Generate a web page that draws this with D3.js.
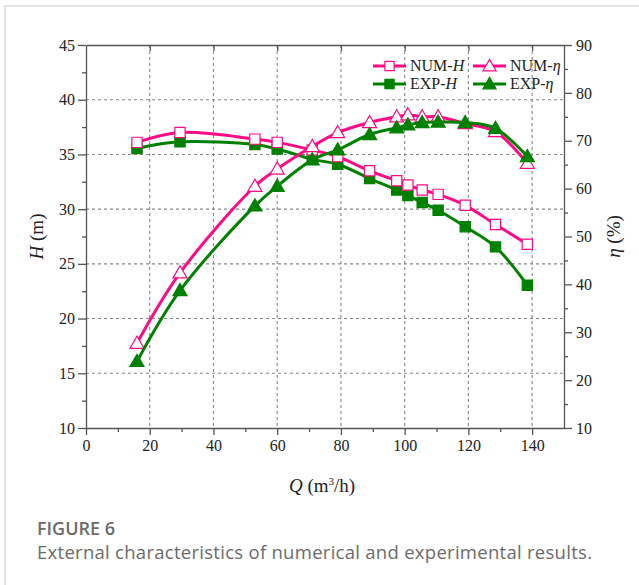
<!DOCTYPE html>
<html>
<head>
<meta charset="utf-8">
<script src="https://cdn.jsdelivr.net/npm/d3@7"></script>
<style>
  body { margin: 0; background: #fff; }
  svg { display: block; }
</style>
</head>
<body>
<svg id="chart" width="639" height="585"></svg>
<script>
// flow rate (m3/h) for every measuring point
const flow = [16, 29.5, 53, 60, 71, 79, 89, 97.5, 101, 105.5, 110.5, 119, 128.5, 138.5];
// head (m)
const headNum = [36.1, 37.0, 36.4, 36.1, 35.4, 34.8, 33.5, 32.6, 32.2, 31.75, 31.35, 30.35, 28.6, 26.8];
const headExp = [35.55, 36.15, 35.9, 35.5, 34.55, 34.1, 32.8, 31.75, 31.25, 30.6, 29.9, 28.4, 26.55, 23.05];
// efficiency (%)
const etaNum = [27.7, 42.4, 60.5, 64.1, 68.8, 71.7, 73.8, 75.0, 75.4, 75.0, 75.0, 73.6, 71.9, 65.3];
const etaExp = [23.9, 38.7, 56.4, 60.5, 66.0, 68.1, 71.3, 72.7, 73.3, 73.8, 73.9, 73.8, 72.6, 66.7];

const xTicks = [0, 20, 40, 60, 80, 100, 120, 140];
const hTicks = [10, 15, 20, 25, 30, 35, 40, 45];
const etaTicks = [10, 20, 30, 40, 50, 60, 70, 80, 90];

const pink = "#ff0a84";
const green = "#008000";
const serif = "'Liberation Serif', 'Times New Roman', serif";

const svg = d3.select("#chart");

// card frame
svg.append("rect")
    .attr("x", 5).attr("y", 6)
    .attr("width", 800).attr("height", 800)
    .attr("fill", "none")
    .attr("stroke", "#e2e2e2")
    .attr("stroke-width", 2);

const pLeft = 86, pRight = 564, pTop = 45, pBottom = 428;

const x = d3.scaleLinear().domain([0, 150]).range([pLeft, pRight]);
const yH = d3.scaleLinear().domain([10, 45]).range([pBottom, pTop]);
const yE = d3.scaleLinear().domain([10, 90]).range([pBottom, pTop]);

// grid
const grid = svg.append("g").attr("stroke", "#888").attr("stroke-dasharray", "3,3").attr("stroke-width", 1.1);
grid.selectAll("line.gx")
    .data(xTicks.filter(d => d > 0))
    .enter().append("line")
    .attr("x1", d => x(d)).attr("x2", d => x(d))
    .attr("y1", pTop).attr("y2", pBottom);
grid.selectAll("line.gy")
    .data(hTicks.filter(d => d > 10 && d < 45))
    .enter().append("line")
    .attr("x1", pLeft).attr("x2", pRight)
    .attr("y1", d => yH(d)).attr("y2", d => yH(d));

function styleAxis(g) {
    g.selectAll("path, line").attr("stroke", "#555").attr("stroke-width", 1.3);
    g.selectAll("text").attr("font-family", serif).attr("font-size", 16).attr("fill", "#222");
}

// minor ticks first, then majors with labels
svg.append("g").attr("transform", `translate(0,${pBottom})`)
    .call(d3.axisBottom(x).tickValues(d3.range(10, 150, 20)).tickSize(4).tickFormat(""))
    .call(styleAxis).select(".domain").remove();
svg.append("g").attr("transform", `translate(0,${pBottom})`)
    .call(d3.axisBottom(x).tickValues(xTicks).tickSize(7).tickSizeOuter(0).tickPadding(5))
    .call(styleAxis);

svg.append("g").attr("transform", `translate(0,${pTop})`)
    .call(d3.axisBottom(x).tickValues(xTicks.filter(d => d > 0)).tickSize(6).tickSizeOuter(0).tickFormat(""))
    .call(styleAxis);

svg.append("g").attr("transform", `translate(${pLeft},0)`)
    .call(d3.axisLeft(yH).tickValues(d3.range(12.5, 45, 5)).tickSize(4).tickFormat(""))
    .call(styleAxis).select(".domain").remove();
svg.append("g").attr("transform", `translate(${pLeft},0)`)
    .call(d3.axisLeft(yH).tickValues(hTicks).tickSize(8).tickSizeOuter(0).tickPadding(3))
    .call(styleAxis);

svg.append("g").attr("transform", `translate(${pRight},0)`)
    .call(d3.axisRight(yE).tickValues(d3.range(15, 90, 10)).tickSize(4).tickFormat(""))
    .call(styleAxis).select(".domain").remove();
svg.append("g").attr("transform", `translate(${pRight},0)`)
    .call(d3.axisRight(yE).tickValues(etaTicks).tickSize(8).tickSizeOuter(0).tickPadding(4))
    .call(styleAxis);

// series
const series = [
    { vals: headExp, y: yH, color: green, shape: d3.symbolSquare, filled: true },
    { vals: headNum, y: yH, color: pink, shape: d3.symbolSquare, filled: false },
    { vals: etaNum, y: yE, color: pink, shape: d3.symbolTriangle, filled: false },
    { vals: etaExp, y: yE, color: green, shape: d3.symbolTriangle, filled: true }
];

series.forEach(s => {
    const pts = flow.map((q, i) => [q, s.vals[i]]);
    const line = d3.line()
        .x(d => x(d[0]))
        .y(d => s.y(d[1]))
        .curve(d3.curveCatmullRom.alpha(0.5));
    svg.append("path")
        .datum(pts)
        .attr("d", line)
        .attr("fill", "none")
        .attr("stroke", s.color)
        .attr("stroke-width", 3);
    const sz = s.shape === d3.symbolSquare ? 105 : 85;
    svg.selectAll(null)
        .data(pts)
        .enter().append("path")
        .attr("d", d3.symbol().type(s.shape).size(sz))
        .attr("transform", d => `translate(${x(d[0])},${s.y(d[1]) + (s.shape === d3.symbolTriangle ? 1 : 0)})`)
        .attr("fill", s.filled ? s.color : "#fff")
        .attr("stroke", s.color)
        .attr("stroke-width", 1.2);
});

// legend
const legend = [
    { label: "NUM-", it: "H", color: pink, shape: d3.symbolSquare, filled: false, lx: 373, ly: 66 },
    { label: "NUM-", it: "η", color: pink, shape: d3.symbolTriangle, filled: false, lx: 473, ly: 66 },
    { label: "EXP-", it: "H", color: green, shape: d3.symbolSquare, filled: true, lx: 373, ly: 84 },
    { label: "EXP-", it: "η", color: green, shape: d3.symbolTriangle, filled: true, lx: 473, ly: 84 }
];
legend.forEach(l => {
    const g = svg.append("g").attr("transform", `translate(${l.lx},${l.ly})`);
    g.append("line").attr("x1", 0).attr("x2", 33).attr("y1", 0).attr("y2", 0)
        .attr("stroke", l.color).attr("stroke-width", 3);
    g.append("path")
        .attr("d", d3.symbol().type(l.shape).size(l.shape === d3.symbolSquare ? 85 : 75))
        .attr("transform", `translate(16.5,${l.shape === d3.symbolTriangle ? 1 : 0})`)
        .attr("fill", l.filled ? l.color : "#fff")
        .attr("stroke", l.color).attr("stroke-width", 1.2);
    const t = g.append("text").attr("x", 37).attr("y", 5)
        .attr("font-family", serif).attr("font-size", 16).attr("fill", "#222");
    t.append("tspan").text(l.label);
    t.append("tspan").attr("font-style", "italic").text(l.it);
});

// axis titles
const xt = svg.append("text").attr("x", 322).attr("y", 492).attr("text-anchor", "middle")
    .attr("font-family", serif).attr("font-size", 19).attr("fill", "#222");
xt.append("tspan").attr("font-style", "italic").text("Q");
xt.append("tspan").text(" (m");
xt.append("tspan").attr("font-size", 11).attr("dy", -7).text("3");
xt.append("tspan").attr("dy", 7).text("/h)");

const yl = svg.append("text").attr("transform", `translate(43,${(pTop + pBottom) / 2}) rotate(-90)`)
    .attr("text-anchor", "middle")
    .attr("font-family", serif).attr("font-size", 19).attr("fill", "#222");
yl.append("tspan").attr("font-style", "italic").text("H");
yl.append("tspan").text(" (m)");

const yr = svg.append("text").attr("transform", `translate(620,${(pTop + pBottom) / 2}) rotate(-90)`)
    .attr("text-anchor", "middle")
    .attr("font-family", serif).attr("font-size", 19).attr("fill", "#222");
yr.append("tspan").attr("font-style", "italic").text("η");
yr.append("tspan").text(" (%)");

// caption
svg.append("text").attr("x", 37).attr("y", 535)
    .attr("font-family", "'Open Sans', sans-serif").attr("font-size", 18).attr("font-weight", 600)
    .attr("fill", "#6b6b6b").text("FIGURE 6");
svg.append("text").attr("x", 37).attr("y", 559)
    .attr("font-family", "'Open Sans', sans-serif").attr("font-size", 18.5)
    .attr("textLength", 555).attr("lengthAdjust", "spacing")
    .attr("fill", "#6b6b6b").text("External characteristics of numerical and experimental results.");
</script>
</body>
</html>
